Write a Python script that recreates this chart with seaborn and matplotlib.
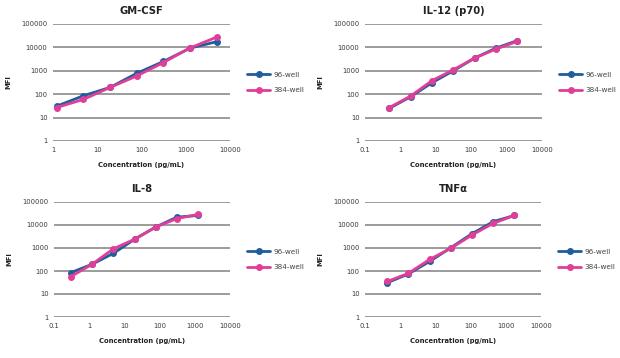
import numpy as np
import pandas as pd
import seaborn as sns
import matplotlib.pyplot as plt
from matplotlib.ticker import FixedLocator, NullLocator

# concentrations (pg/mL) per analyte
gmcsf_conc = [1.22, 4.88, 19.5, 78, 312.5, 1250, 5000]
il12_conc = [0.49, 1.95, 7.8, 31.25, 125, 500, 2000]
il8_conc = [0.3, 1.2, 4.9, 19.5, 78, 312, 1250]
tnfa_conc = [0.43, 1.7, 6.9, 27.5, 110, 440, 1760]

# MFI readings
gmcsf_96 = [31, 86, 195, 780, 2500, 9300, 17500]
gmcsf_384 = [27, 60, 195, 600, 2250, 9500, 27500]
il12_96 = [25, 78, 310, 1000, 3500, 9300, 19500]
il12_384 = [27, 83, 380, 1100, 3500, 8500, 18000]
il8_96 = [85, 195, 590, 2400, 8200, 22000, 26000]
il8_384 = [57, 195, 930, 2400, 8200, 19000, 29000]
tnfa_96 = [31, 74, 263, 1030, 4200, 14000, 26000]
tnfa_384 = [35, 79, 320, 970, 3700, 11800, 26000]

titles = ["GM-CSF", "IL-12 (p70)", "IL-8", "TNF\u03b1"]
series = ["96-well", "384-well"]
colors = {"96-well": "#1f5d9c", "384-well": "#df3f98"}

y_ticks = [1, 10, 100, 1000, 10000, 100000]
y_labels = ["1", "10", "100", "1000", "10000", "100000"]

panels = [
    (gmcsf_conc, gmcsf_96, gmcsf_384, [1, 10, 100, 1000, 10000], ["1", "10", "100", "1000", "10000"]),
    (il12_conc, il12_96, il12_384, [0.1, 1, 10, 100, 1000, 10000], ["0.1", "1", "10", "100", "1000", "10000"]),
    (il8_conc, il8_96, il8_384, [0.1, 1, 10, 100, 1000, 10000], ["0.1", "1", "10", "100", "1000", "10000"]),
    (tnfa_conc, tnfa_96, tnfa_384, [0.1, 1, 10, 100, 1000, 10000], ["0.1", "1", "10", "100", "1000", "10000"]),
]

# axes boxes in pixels: left, top, right, bottom
boxes = [(53, 24, 230, 141), (365, 24, 542, 141), (54, 202, 230, 317), (365, 202, 541, 317)]

sns.set_style("white")
plt.rcParams["font.family"] = ["DejaVu Sans"]

W, H = 620, 358
fig = plt.figure(figsize=(W / 100, H / 100), dpi=100)

for (conc, v96, v384, xt, xl), title, (l, t, r, b) in zip(panels, titles, boxes):
    ax = fig.add_axes([l / W, 1 - b / H, (r - l) / W, (b - t) / H])
    df = pd.DataFrame({
        "conc": conc + conc,
        "MFI": v96 + v384,
        "plate": ["96-well"] * len(conc) + ["384-well"] * len(conc),
    })
    sns.lineplot(data=df, x="conc", y="MFI", hue="plate", hue_order=series,
                 palette=colors, marker="o", markersize=5, markeredgewidth=0,
                 linewidth=2.0, ax=ax, zorder=3)
    ax.set_xscale("log")
    ax.set_yscale("log")
    ax.set_xlim(xt[0], xt[-1])
    ax.set_ylim(1, 100000)
    ax.xaxis.set_major_locator(FixedLocator(xt))
    ax.set_xticklabels(xl)
    ax.xaxis.set_minor_locator(NullLocator())
    ax.yaxis.set_major_locator(FixedLocator(y_ticks))
    ax.set_yticklabels(y_labels)
    ax.yaxis.set_minor_locator(NullLocator())
    ax.grid(axis="y", color="#808080", linewidth=1.1)
    ax.grid(axis="x", visible=False)
    for s in ax.spines.values():
        s.set_visible(False)
    ax.tick_params(axis="both", length=0, labelsize=4.9, colors="#3a3a3a", pad=4)
    ax.set_title(title, fontsize=7.2, fontweight="bold", pad=7, color="#222222")
    ax.set_xlabel("Concentration (pg/mL)", fontsize=4.9, fontweight="bold", color="#222222", labelpad=7)
    ax.set_ylabel("MFI", fontsize=4.9, fontweight="bold", color="#222222", labelpad=7)
    ax.legend(loc="center left", bbox_to_anchor=(1.06, 0.5), frameon=False,
              fontsize=5.2, handlelength=3.2, labelspacing=1.3, handletextpad=0.5,
              labelcolor="#444444")

plt.savefig("out.png", dpi=100)
